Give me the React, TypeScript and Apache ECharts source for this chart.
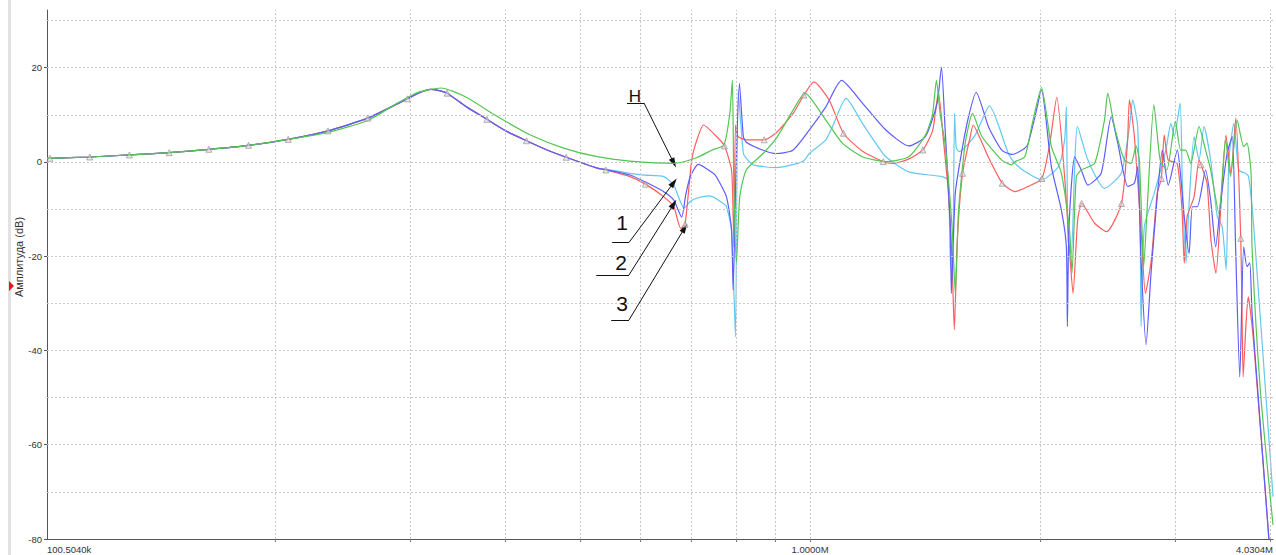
import React, { useEffect, useRef } from 'react';
import * as echarts from 'echarts';

// Axis ranges (frequency in kHz, amplitude in dB)
const X_MIN = 100.504;
const X_MAX = 4030.4;
const Y_MIN = -80;
const Y_MAX = 32.25;

const xLabelValues = [100.504, 1000, 4030.4];
const xLabelTexts = ['100.5040k', '1.0000M', '4.0304M'];
const xGridValues = [200, 300, 400, 500, 600, 700, 800, 900, 1000, 2000, 3000, 4000];
const yGridValues = [-70, -60, -50, -40, -30, -20, -10, 0, 10, 20, 30];
const yLabelValues = [-80, -60, -40, -20, 0, 20];

// Shared low-frequency part (red / blue / cyan coincide here)
const basePts: [number, number][] = [
  [100.504, 0.75], [101.4, 0.78], [114.3, 1.06], [128.8, 1.49], [145.2, 1.98], [163.6, 2.69],
  [184.4, 3.54], [207.8, 4.8], [234.2, 6.6], [263.9, 9.3], [297.5, 13.4], [307.6, 14.6],
  [318.5, 15.4], [326.3, 15.2], [335.3, 14.6], [354.7, 11.8], [377.9, 9.05], [400.0, 6.6],
  [425.8, 4.5], [452.0, 2.6], [479.8, 1.0], [526.8, -1.3],
];

// Curve "3" (red) above the shared part; triangles are added from markers below
const redPts: [number, number][] = [
  [581.7, -3.1], [643.8, -7.4], [663.4, -9.5], [677.5, -14.1], [700.2, 0.4], [710.7, 4.5],
  [725.6, 7.85], [754.6, 5.4], [789.4, -1.7], [793.3, -11.6], [795.3, -18], [798.8, 7.85],
  [805.2, 5.4], [825.2, 4.7], [903.1, 6.2], [950.2, 10.3], [1011.9, 17.0], [1058.7, 13.2],
  [1168.3, 2.4], [1282.3, -0.28], [1345.4, 0.6], [1445.5, 6.5], [1458.5, 10.5], [1471.6, 14.9],
  [1493.5, 5.0], [1516.6, -6.6], [1533.3, -20.8], [1543.9, -35.6], [1557.8, -16.6],
  [1619.8, 5.4], [1634.3, 7.85], [1668.8, 5.0], [1709.7, 1.1], [1853.4, -6.3], [1927.3, -5.2],
  [2058.4, 4.0], [2101.8, 13.7], [2152, -3.1], [2185.5, -19.4], [2207.2, -27.9], [2238.3, -12.3],
  [2355.2, -13.0], [2442.1, -14.8], [2600.4, 4.0], [2615.8, 13.2], [2655, 5.4], [2710.8, -15.1],
  [2744.8, -27.9], [2793.8, -20.8], [2844.3, -6.6], [2904.6, 5.7], [2940, 0.4], [3019.8, -0.3],
  [3064.7, -10.2], [3085.1, -21.5], [3112.3, -11.6], [3177.7, -7.4], [3225.5, 0.4], [3304, -4.5],
  [3343.8, -16.6], [3394.1, -23.6], [3444.8, -9.5], [3498.2, 5.7], [3550.2, -2.4], [3603.7, 9.3],
  [3670, -30], [3684, -45.6], [3714, -35], [3739.8, -28.6], [3758.2, -30.5], [3803.3, -38.5],
  [3981, -80],
];

// Triangle markers riding on the red curve
const markerFreq = [
  101.4, 114.3, 128.8, 145.2, 163.6, 184.4, 207.8, 234.2, 263.9, 297.5, 335.3, 377.9, 425.8,
  479.8, 540.7, 609.2, 686.4, 772.9, 871.0, 981.5, 1105.7, 1246.6, 1404.3, 1582.8, 1783.7,
  2010.0, 2265.5, 2553.9, 2879.8, 3245, 3657.4,
];
const markerDb = [
  0.78, 1.06, 1.49, 1.98, 2.69, 3.54, 4.8, 6.6, 9.3, 13.4, 14.6, 9.05, 4.5, 1.0, -1.7, -4.7,
  -13.2, 3.4, 4.7, 14.2, 6.1, 0.07, 2.55, -2.4, -4.5, -3.5, -8.8, -8.8, -3.5, -0.6, -16.2,
];

// Curve "2" (blue)
const bluePts: [number, number][] = [
  [539.6, -1.6], [581.7, -2.76], [608.3, -4.2], [643.8, -6.3], [663.4, -8.1], [679.4, -11.7],
  [687.7, -7.0], [697.2, -3.1], [714.3, -0.5], [747.1, -2.4], [754.6, -3.2], [777.5, -7.4],
  [789.4, -14.4], [793.3, -27.2], [800, -2], [808.4, 16.7], [818.0, 5.4], [825.2, 4.2],
  [868.1, 2.5], [903.1, 1.8], [949.4, 2.5], [998, 6.8], [1048.5, 11.7], [1099.5, 17.3],
  [1170.7, 12.5], [1256.2, 6.8], [1346.3, 3.4], [1415.4, 5.4], [1466, 12.5], [1485.3, 20.1],
  [1501.1, 7.5], [1525.6, -13.7], [1530.1, -27.9], [1548.5, -6.6], [1579.9, 2.5], [1611.5, 9.6],
  [1649, 14.8], [1711.2, 7.5], [1781, 2.5], [1838.6, 1.6], [1909, 2.9], [1929, 4.0], [1967.8, 9.5],
  [2007.3, 15.3], [2068, -1.0], [2131.3, -10.2], [2163.4, -18], [2170, -34.9], [2180.6, -13.7],
  [2218.3, 1.1], [2263, -1.7], [2308, -4.9], [2402.3, -2.4], [2476, 9.6], [2525.5, 4.0],
  [2603, -5.2], [2655, -4.5], [2681.4, -1.0], [2708.8, -20.8], [2750, -38.8], [2791.6, -23.6],
  [2846.8, -6.6], [2889.4, 2.5], [2940, -4.9], [3022, 2.5], [3052.6, -3.1], [3085.1, -11.6],
  [3130.6, -19.4], [3161.8, -9.5], [3209.5, -9.5], [3290, -1.7], [3340.5, -8.1], [3391.2, -18],
  [3441.5, -8.8], [3510, 1.8], [3565, 5.4], [3601, -18], [3647, -45.6], [3690, -18], [3727, -22.2],
  [3758.2, -21.4], [3784, -32.1], [3849, -48.4], [3981, -80],
];

// Curve "1" (cyan)
const cyanPts: [number, number][] = [
  [539.6, -1.5], [581.7, -2.4], [608.3, -2.8], [643.8, -3.1], [663.4, -4.9], [684.2, -9.8],
  [697.2, -8.4], [710.7, -7.7], [739.8, -7.2], [769.9, -8.8], [777.5, -9.5], [789.4, -14.4],
  [798.8, -37.1], [805.2, 15.3], [818, 1.8], [825.2, 0.8], [843, -0.6], [903.1, -1.2],
  [978, 0.07], [998, 1.8], [1048.5, 4.7], [1069.7, 7.5], [1114.5, 13.5], [1170.7, 8.2],
  [1218.5, 4.0], [1256.2, 1.1], [1346.3, -2.1], [1488, -3.1], [1514.7, -3.8], [1525.6, -20.8],
  [1535.6, -25], [1545, 10.3], [1553, 3], [1566.3, 2.2], [1644.1, 5.7], [1716, 11.9],
  [1817, 1.8], [1853.4, -0.3], [1909, -2.0], [2007.3, -3.8], [2112, -1.0], [2152, 4.7],
  [2163.4, 11.7], [2174, -16.6], [2196, -19.4], [2218.3, -1.0], [2236, 7.5], [2308.5, 0.4],
  [2426.5, -5.6], [2552, -2.4], [2615.8, 7.5], [2641.7, 13.2], [2681.4, 7.5], [2703, -17.3],
  [2708.8, -34.9], [2735.8, -13.7], [2818.9, -6.6], [2919, 2.5], [2963.6, 8.2], [2992.9, 5.4],
  [3047, 12.5], [3067.8, -4.5], [3102, -21.5], [3130.6, -8.8], [3177.7, 5.4], [3225.5, 0.4],
  [3274.4, 7.5], [3340.5, 0.4], [3408, -11.6], [3459, -13.7], [3500, -22.9], [3529, 0.4],
  [3582.2, 8.2], [3636, -1.7], [3709, -2.4], [3745, -3.1], [3803.3, -13.7], [4030.4, -71],
];

// Curve "Н" (green)
const greenPts: [number, number][] = [
  [234.2, 6.3], [263.9, 8.8], [289.4, 12.6], [307.2, 14.8], [329.2, 15.7], [353.7, 13.9],
  [390.5, 9.6], [431.0, 5.73], [477.2, 2.9], [526.8, 1.13], [581.7, 0.2], [663.4, -0.28],
  [710.7, 0.9], [743.4, 2.5], [771.5, 3.6], [785.3, 10.3], [791.4, 17.4], [794.9, -5],
  [801.2, -21.4], [809.2, -7.4], [825.2, -1.7], [868.1, 1.8], [903.1, 5.0], [950.2, 11.0],
  [984.5, 14.6], [1048.5, 8.9], [1102, 4.0], [1170.7, 1.1], [1256.2, 0.07], [1346.3, 1.1],
  [1415.4, 5.7], [1445.5, 10], [1462.9, 17.3], [1480, 10], [1501.1, 4.0], [1533.3, -13.7],
  [1548.5, -27.9], [1563.9, -10.2], [1595.5, 4.0], [1631, 10.3], [1677.5, 5.4], [1781, 0.4],
  [1835, -0.6], [1853.4, 0.07], [1909, 1.1], [1948.5, 7.5], [2007.3, 15.8], [2068, 3.25],
  [2131.3, -2.4], [2185.5, -15.1], [2200.4, -23.6], [2229, -3.1], [2263, -1.7], [2355.2, -0.28],
  [2426.5, 8.9], [2450.6, 14.6], [2500.7, 7.5], [2576.5, 0.4], [2628.5, -0.3], [2668, 3.4],
  [2695, 0.4], [2722, -18], [2730, -22.2], [2763, -8.1], [2816, 12.1], [2869.6, 0.4],
  [2927, -1.7], [3003.7, 8.6], [3052.6, 2.5], [3098.6, 2.5], [3145.6, -0.3], [3225.5, 7.5],
  [3290, 2.5], [3340.5, -1.7], [3424.6, -10.9], [3494, 4.7], [3546, -3.1], [3618.4, 8.9],
  [3690, 3.25], [3727, 4.0], [3773, -2.4], [3784, -18], [3879.4, -48.4], [4030.4, -77],
];

// Annotation arrows (data coordinates)
const annotLabels = ['Н', '1', '2', '3'];
const annotUnderStart: [number, number][] = [[576.2, 12.52], [551.1, -17.08], [525.3, -23.98], [549.5, -33.53]];
const annotUnderEnd: [number, number][] = [[606.5, 12.52], [579.7, -17.08], [579.7, -23.98], [579.7, -33.53]];
const annotTip: [number, number][] = [[663.4, -0.21], [663.4, -4.35], [663.4, -8.91], [685.6, -14.0]];

const COLORS = {
  green: '#52c652',
  red: '#ff5c5c',
  blue: '#5c5cff',
  cyan: '#62c8f2',
};

const FONT = 'Liberation Sans, Arial, sans-serif';

function sortPts(pts: [number, number][]) {
  return pts.slice().sort((a, b) => a[0] - b[0]);
}

export default function App() {
  const ref = useRef<HTMLDivElement>(null);

  useEffect(() => {
    document.body.style.margin = '0';
    if (!ref.current) return;
    const chart = echarts.init(ref.current, undefined, { renderer: 'svg' });

    const baseMax = basePts[basePts.length - 1][0];
    const markers: [number, number][] = markerFreq.map((f, i) => [f, markerDb[i]]);
    const redData = sortPts([...basePts, ...redPts, ...markers.filter((m) => m[0] > baseMax)]);
    const blueData = sortPts([...basePts, ...bluePts]);
    const cyanData = sortPts([...basePts, ...cyanPts]);
    const greenData = sortPts([...basePts.filter((p) => p[0] <= 207.8), ...greenPts]);

    const lineSeries = (name: string, data: [number, number][], color: string, z: number) => ({
      name,
      type: 'line',
      data,
      showSymbol: false,
      symbol: 'none',
      smooth: 0.2,
      z,
      lineStyle: { color, width: 1.2 },
      itemStyle: { color },
    });

    const annotLines: any[] = [];
    annotLabels.forEach((_, i) => {
      annotLines.push([
        { coord: annotUnderStart[i], symbol: 'none' },
        { coord: annotUnderEnd[i], symbol: 'none' },
      ]);
      annotLines.push([
        { coord: annotUnderEnd[i], symbol: 'none' },
        { coord: annotTip[i], symbol: 'triangle', symbolSize: [6, 10] },
      ]);
    });

    const textStyle = (text: string, size: number) => ({
      text, fontSize: size, fill: '#111', align: 'center', verticalAlign: 'middle', fontFamily: FONT,
    });

    const option: any = {
      animation: false,
      backgroundColor: '#ffffff',
      grid: { left: 47, top: 10, width: 1232, height: 529, containLabel: false },
      xAxis: {
        type: 'log',
        logBase: 10,
        min: X_MIN,
        max: X_MAX,
        axisLine: { show: true, onZero: false, lineStyle: { color: '#555', width: 1 } },
        axisTick: { show: true, customValues: xGridValues, length: 3, lineStyle: { color: '#777' } },
        axisLabel: {
          show: true,
          customValues: xLabelValues,
          formatter: (v: number) => {
            const idx = xLabelValues.findIndex((x) => Math.abs(x - v) / x < 1e-6);
            return idx >= 0 ? xLabelTexts[idx] : '';
          },
          alignMinLabel: 'left',
          alignMaxLabel: 'right',
          fontSize: 9.5,
          color: '#333',
          fontFamily: FONT,
          margin: 5,
        },
        splitLine: { show: false },
        minorSplitLine: { show: false },
      },
      yAxis: {
        type: 'value',
        min: Y_MIN,
        max: Y_MAX,
        axisLine: { show: true, onZero: false, lineStyle: { color: '#555', width: 1 } },
        axisTick: { show: true, customValues: yLabelValues, length: 3, lineStyle: { color: '#555' } },
        axisLabel: {
          customValues: yLabelValues,
          fontSize: 9.5,
          color: '#333',
          fontFamily: FONT,
          margin: 5,
        },
        splitLine: { show: false },
      },
      graphic: [
        { type: 'rect', shape: { x: 8, y: 0, width: 3, height: 555 }, style: { fill: '#e2e2e2' }, z: 0 },
        { type: 'polygon', shape: { points: [[9, 281], [14, 286], [9, 291]] }, style: { fill: '#e8141e' }, z: 5 },
        {
          type: 'text', x: 19, y: 257, rotation: Math.PI / 2,
          style: { text: 'Амплитуда (dB)', fontSize: 11, fill: '#333', align: 'center', verticalAlign: 'middle', fontFamily: FONT },
        },
        { type: 'text', x: 635, y: 96, style: textStyle(annotLabels[0], 17), z: 20 },
        { type: 'text', x: 622, y: 222, style: textStyle(annotLabels[1], 21), z: 20 },
        { type: 'text', x: 621, y: 262, style: textStyle(annotLabels[2], 21), z: 20 },
        { type: 'text', x: 622, y: 303, style: textStyle(annotLabels[3], 21), z: 20 },
      ],
      series: [
        {
          name: 'grid',
          type: 'line',
          data: [],
          z: 0,
          silent: true,
          markLine: {
            silent: true,
            symbol: 'none',
            label: { show: false },
            lineStyle: { color: '#c8c8c8', type: [2, 2], width: 1 },
            data: [
              ...xGridValues.map((v) => ({ xAxis: v })),
              ...yGridValues.map((v) => ({ yAxis: v })),
            ],
          },
        },
        lineSeries('1', cyanData, COLORS.cyan, 2),
        lineSeries('3', redData, COLORS.red, 3),
        lineSeries('2', blueData, COLORS.blue, 4),
        lineSeries('Н', greenData, COLORS.green, 5),
        {
          name: 'markers',
          type: 'scatter',
          data: markers,
          symbol: 'triangle',
          symbolSize: 6,
          z: 6,
          itemStyle: { color: 'rgba(215,215,215,0.7)', borderColor: '#8a8a8a', borderWidth: 0.8 },
        },
        {
          name: 'annotations',
          type: 'line',
          data: [],
          z: 10,
          silent: true,
          markLine: {
            silent: true,
            symbol: 'none',
            label: { show: false },
            lineStyle: { color: '#111', type: 'solid', width: 1 },
            data: annotLines,
          },
        },
      ],
    };

    chart.setOption(option);
    return () => chart.dispose();
  }, []);

  return <div ref={ref} style={{ width: 1276, height: 555 }} />;
}
